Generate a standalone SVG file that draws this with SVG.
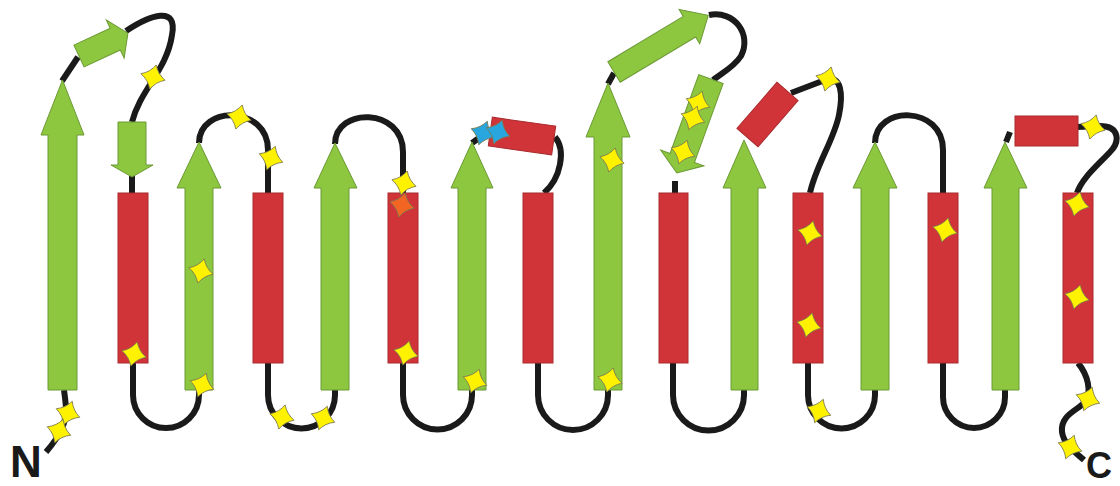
<svg xmlns="http://www.w3.org/2000/svg" xmlns:xlink="http://www.w3.org/1999/xlink" width="1120" height="486" viewBox="0 0 1120 486">
<style>
.strand{fill:#8dc63f;stroke:#6b9a35;stroke-width:1}
.helix{fill:#d13438;stroke:#a82a2c;stroke-width:1}
.loop{fill:none;stroke:#1a1a1a;stroke-width:6;stroke-linecap:butt}
.star{fill:#fff200;stroke:#7a7a50;stroke-width:0.8}
.orange{fill:#f26522}
.blue{fill:#2aa6df}
.term{font-family:"Liberation Sans",Arial,sans-serif;font-weight:bold;font-size:44px;fill:#1a1a1a}
</style>
<defs>
<path id="st" d="M0,-12.5 Q4,-4 12.5,0 Q4,4 0,12.5 Q-4,4 -12.5,0 Q-4,-4 0,-12.5 Z"/>
</defs>
<rect width="1120" height="486" fill="#ffffff"/>
<g id="connectors">
<path class="loop" d="M64,390 C66,405 68,415 62,428 C58,438 52,445 46,452"/>
<path class="loop" d="M62,81 L78,57"/>
<path class="loop" d="M126,31 C150,15 178,5 172,35 C167,70 140,90 132,122"/>
<path class="loop" d="M132,176 V193"/>
<path class="loop" d="M133,363 V395 A33,33 0 0 0 199,395 V390"/>
<path class="loop" d="M199,143 C199,105 268,105 268,150 V193"/>
<path class="loop" d="M268,363 V395 A33.5,33.5 0 0 0 335,395 V390"/>
<path class="loop" d="M335,144 C335,107 403,107 403,152 V193"/>
<path class="loop" d="M403,363 V395 A34.5,34.5 0 0 0 472,395 V390"/>
<path class="loop" d="M472,143 L486,133"/>
<path class="loop" d="M555,137 C566,150 561,178 544,193"/>
<path class="loop" d="M538,363 V395 A35,35 0 0 0 608,395 V390"/>
<path class="loop" d="M608,84 L614,73"/>
<path class="loop" d="M709,15 C735,10 752,35 741,56 C734,67 722,73 713,80"/>
<path class="loop" d="M675,181 V193"/>
<path class="loop" d="M673,363 V395 A35.5,35.5 0 0 0 744,395 V390"/>
<path class="loop" d="M791,93 L825,80 C842,74 843,95 839,115 C834,140 816,165 810,193"/>
<path class="loop" d="M808,363 V395 A33.5,33.5 0 0 0 875,395 V390"/>
<path class="loop" d="M875,143 C875,105 943,105 943,150 V193"/>
<path class="loop" d="M943,363 V397 A31,31 0 0 0 1005,397 V390"/>
<path class="loop" d="M1006,142 L1010,132"/>
<path class="loop" d="M1077,127 L1100,126 C1120,126 1120,142 1110,152 C1098,165 1082,178 1077,193"/>
<path class="loop" d="M1078,363 C1088,375 1092,392 1085,402 C1078,410 1060,415 1062,432 C1064,445 1075,452 1084,460"/>
</g>
<g id="b1"><polygon class="strand" points="48,390 48,135 41,135 62.5,80 84,135 77,135 77,390"/></g>
<g id="b1a"><polygon class="strand" transform="translate(79,56) rotate(-25)" points="0,-12 40,-12 40,-21 54,0 40,21 40,12 0,12"/></g>
<g id="b1b"><polygon class="strand" points="118,122 146,122 146,165 153,165 132,177 111,165 118,165"/></g>
<g id="a1"><rect class="helix" x="118" y="193" width="30" height="170"/></g>
<g id="b2"><polygon class="strand" points="185,390 185,188 177,188 199,142 221,188 213,188 213,390"/></g>
<g id="a2"><rect class="helix" x="253" y="193" width="30" height="170"/></g>
<g id="b3"><polygon class="strand" points="321,390 321,188 314,188 335,143 357,188 349,188 349,390"/></g>
<g id="a3"><rect class="helix" x="388" y="193" width="30" height="170"/></g>
<g id="b4"><polygon class="strand" points="458,390 458,188 451,188 472,142 493,188 486,188 486,390"/></g>
<g id="a4a"><rect class="helix" transform="translate(522,136) rotate(8)" x="-32" y="-14.5" width="64" height="29"/></g>
<g id="a4"><rect class="helix" x="523" y="193" width="30" height="170"/></g>
<g id="b5"><polygon class="strand" points="594,390 594,137 586,137 608,83 630,137 622,137 622,390"/></g>
<g id="b5a"><polygon class="strand" transform="translate(614,72) rotate(-31)" points="0,-12 88,-12 88,-20 110,0 88,20 88,12 0,12"/></g>
<g id="b5b"><polygon class="strand" transform="translate(711,79) rotate(110)" points="0,-13 84,-13 84,-23 100,0 84,23 84,13 0,13"/></g>
<g id="a5"><rect class="helix" x="659" y="193" width="29" height="170"/></g>
<g id="b6"><polygon class="strand" points="731,390 731,188 723,188 744,140 766,188 758,188 758,390"/></g>
<g id="a6a"><rect class="helix" transform="translate(767.5,114.5) rotate(-49)" x="-30.5" y="-14" width="61" height="28"/></g>
<g id="a6"><rect class="helix" x="793" y="193" width="30" height="170"/></g>
<g id="b7"><polygon class="strand" points="861,390 861,188 853,188 875,142 897,188 889,188 889,390"/></g>
<g id="a7"><rect class="helix" x="928" y="193" width="30" height="170"/></g>
<g id="b8"><polygon class="strand" points="992,390 992,188 984,188 1005,142 1027,188 1019,188 1019,390"/></g>
<g id="a8a"><rect class="helix" x="1015" y="116" width="63" height="30"/></g>
<g id="a8"><rect class="helix" x="1063" y="193" width="30" height="170"/></g>
<g id="stars">
<use xlink:href="#st" class="star" transform="translate(153,77) rotate(15)"/>
<use xlink:href="#st" class="star" transform="translate(239,117) rotate(15)"/>
<use xlink:href="#st" class="star" transform="translate(271,158) rotate(20)"/>
<use xlink:href="#st" class="star" transform="translate(201,271) rotate(15)"/>
<use xlink:href="#st" class="star" transform="translate(134,354) rotate(15)"/>
<use xlink:href="#st" class="star" transform="translate(202,385) rotate(20)"/>
<use xlink:href="#st" class="star" transform="translate(68,413) rotate(20)"/>
<use xlink:href="#st" class="star" transform="translate(59,431) rotate(20)"/>
<use xlink:href="#st" class="star" transform="translate(282,417) rotate(15)"/>
<use xlink:href="#st" class="star" transform="translate(323,418) rotate(20)"/>
<use xlink:href="#st" class="star" transform="translate(406,353) rotate(15)"/>
<use xlink:href="#st" class="star" transform="translate(475,381) rotate(20)"/>
<use xlink:href="#st" class="star" transform="translate(404,183) rotate(15)"/>
<use xlink:href="#st" class="star orange" transform="translate(402,205) rotate(15)"/>
<use xlink:href="#st" class="star blue" transform="translate(483,133) rotate(20)"/>
<use xlink:href="#st" class="star blue" transform="translate(498,132) rotate(20)"/>
<use xlink:href="#st" class="star" transform="translate(612,160) rotate(15)"/>
<use xlink:href="#st" class="star" transform="translate(610,380) rotate(15)"/>
<use xlink:href="#st" class="star" transform="translate(698,103) rotate(20)"/>
<use xlink:href="#st" class="star" transform="translate(693,118) rotate(20)"/>
<use xlink:href="#st" class="star" transform="translate(683,152) rotate(20)"/>
<use xlink:href="#st" class="star" transform="translate(828,79) rotate(15)"/>
<use xlink:href="#st" class="star" transform="translate(810,233) rotate(15)"/>
<use xlink:href="#st" class="star" transform="translate(809,325) rotate(15)"/>
<use xlink:href="#st" class="star" transform="translate(819,411) rotate(20)"/>
<use xlink:href="#st" class="star" transform="translate(945,230) rotate(15)"/>
<use xlink:href="#st" class="star" transform="translate(1093,127) rotate(15)"/>
<use xlink:href="#st" class="star" transform="translate(1077,204) rotate(15)"/>
<use xlink:href="#st" class="star" transform="translate(1077,297) rotate(15)"/>
<use xlink:href="#st" class="star" transform="translate(1088,399) rotate(20)"/>
<use xlink:href="#st" class="star" transform="translate(1070,447) rotate(20)"/>
</g>
<g id="labels">
<text class="term" x="10" y="477">N</text>
<text class="term" x="1086" y="478" style="font-size:36px">C</text>
</g>
</svg>
